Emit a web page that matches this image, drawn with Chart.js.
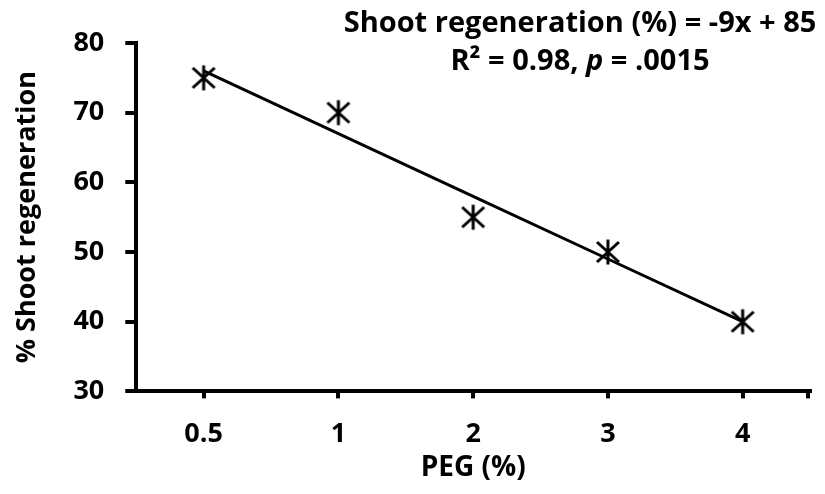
<!DOCTYPE html>
<html>
<head>
<meta charset="utf-8">
<script src="https://cdn.jsdelivr.net/npm/chart.js@4.4.0/dist/chart.umd.min.js"></script>
<style>
  html, body { margin: 0; padding: 0; background: #fff; }
  #wrap { width: 825px; height: 494px; }
</style>
</head>
<body>
<div id="wrap"><canvas id="peg-chart"></canvas></div>
<script>
// data
var categories = ['0.5', '1', '2', '3', '4'];
var regeneration = [75, 70, 55, 50, 40];
var trendValues = [76, 67, 58, 49, 40]; // -9x + 85
var yMin = 30, yMax = 80, yStep = 10;

var FONT = '"Open Sans", sans-serif';

// asterisk marker (x + vertical bar)
function makeAsterisk() {
  var c = document.createElement('canvas');
  c.width = 28; c.height = 28;
  var g = c.getContext('2d');
  g.strokeStyle = '#000';
  g.lineWidth = 3;
  g.beginPath();
  g.moveTo(3, 4); g.lineTo(25, 24);
  g.moveTo(25, 4); g.lineTo(3, 24);
  g.moveTo(14, 1.5); g.lineTo(14, 26.5);
  g.stroke();
  return c;
}

var equationText = {
  id: 'equationText',
  afterDraw: function (chart) {
    var c = chart.ctx;
    var cx = 580;
    c.save();
    c.fillStyle = '#000';
    c.textBaseline = 'middle';
    c.font = 'bold 29px ' + FONT;
    c.textAlign = 'center';
    c.fillText('Shoot regeneration (%) = -9x + 85', cx, 24);
    // second line with italic p
    var parts = [
      { t: 'R\u00B2 = 0.98, ', f: 'bold 29px ' + FONT },
      { t: 'p', f: 'italic bold 29px ' + FONT },
      { t: ' = .0015', f: 'bold 29px ' + FONT }
    ];
    var total = 0;
    parts.forEach(function (p) { c.font = p.f; p.w = c.measureText(p.t).width; total += p.w; });
    var x = cx - total / 2;
    c.textAlign = 'left';
    parts.forEach(function (p) { c.font = p.f; c.fillText(p.t, x, 62); x += p.w; });
    // end tick on x axis
    var a = chart.chartArea;
    c.strokeStyle = '#000';
    c.lineWidth = 4;
    c.beginPath();
    c.moveTo(a.right - 2, a.bottom);
    c.lineTo(a.right - 2, a.bottom + 7);
    c.stroke();
    c.restore();
  }
};

var ctx = document.getElementById('peg-chart').getContext('2d');

var chart = new Chart(ctx, {
  type: 'line',
  data: {
    labels: categories,
    datasets: [{
      label: 'Trend',
      data: trendValues,
      borderColor: '#000',
      borderWidth: 3,
      pointRadius: 0,
      fill: false,
      tension: 0
    }, {
      label: 'Shoot regeneration',
      data: regeneration,
      showLine: false,
      pointStyle: makeAsterisk(),
      pointRadius: 13
    }]
  },
  options: {
    responsive: true,
    maintainAspectRatio: false,
    animation: false,
    layout: { padding: { top: 43, right: 15, left: 11, bottom: 9 } },
    plugins: {
      legend: { display: false },
      tooltip: { enabled: false }
    },
    scales: {
      x: {
        offset: true,
        grid: { drawOnChartArea: false, color: '#000', lineWidth: 4, tickLength: 7, offset: false },
        border: { color: '#000', width: 4 },
        ticks: { color: '#000', font: { family: FONT, size: 27, weight: 'bold', lineHeight: 1 }, padding: 22 },
        title: { display: true, text: 'PEG (%)', color: '#000', font: { family: FONT, size: 28, weight: 'bold', lineHeight: 1.2 }, padding: { top: -18, bottom: 0 } }
      },
      y: {
        min: yMin,
        max: yMax,
        grid: { drawOnChartArea: false, color: '#000', lineWidth: 4, tickLength: 11, offset: false },
        border: { color: '#000', width: 4 },
        ticks: { stepSize: yStep, color: '#000', font: { family: FONT, size: 27, weight: 'bold', lineHeight: 1 }, padding: 21 },
        title: { display: true, text: '% Shoot regeneration', color: '#000', font: { family: FONT, size: 27, weight: 'bold', lineHeight: 1.2 }, padding: { top: 0, bottom: 9 } }
      }
    }
  },
  plugins: [equationText]
});
</script>
</body>
</html>
